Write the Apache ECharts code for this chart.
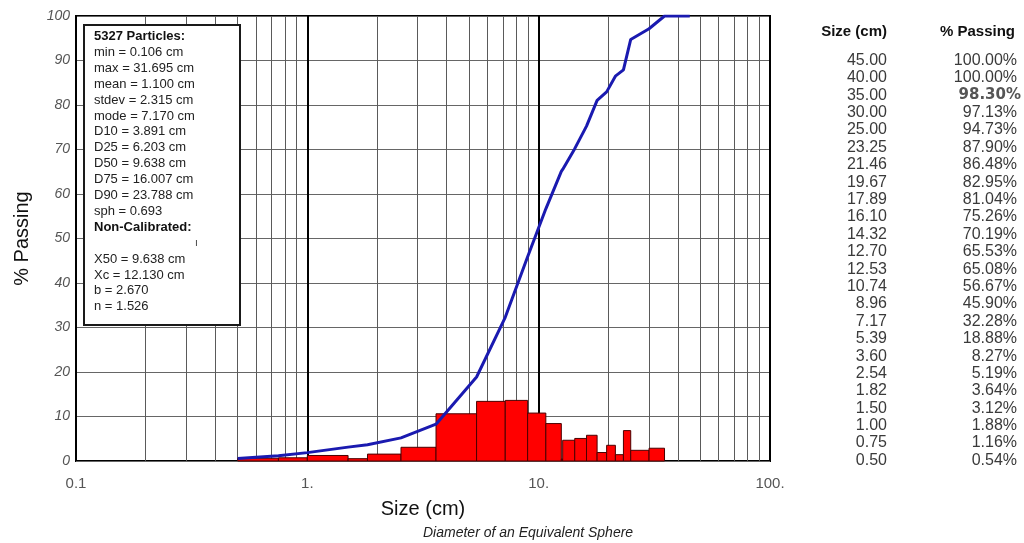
<!DOCTYPE html>
<html>
<head>
<meta charset="utf-8">
<script src="https://cdn.jsdelivr.net/npm/echarts@6/dist/echarts.min.js"></script>
<style>
html,body{margin:0;padding:0;background:#fff;}
#c{width:1024px;height:543px;}
</style>
</head>
<body>
<div id="c"></div>
<script>
// ---- Data ----
const curveSizes   = [0.5, 0.75, 1.0, 1.5, 1.82, 2.54, 3.6, 5.39, 7.17, 8.96, 10.74, 12.53, 12.70, 14.32, 16.10, 17.89, 19.67, 21.46, 23.25, 25, 30, 35, 40, 45];
const curvePassing = [0.54, 1.16, 1.88, 3.12, 3.64, 5.19, 8.27, 18.88, 32.28, 45.90, 56.67, 65.08, 65.53, 70.19, 75.26, 81.04, 82.95, 86.48, 87.90, 94.73, 97.13, 100, 100, 100];

const binLo  = [0.5, 0.75, 1.0, 1.5, 1.82, 2.54, 3.6, 5.39, 7.17, 8.96, 10.74, 12.53, 12.70, 14.32, 16.10, 17.89, 19.67, 21.46, 23.25, 25, 30];
const binHi  = [0.75, 1.0, 1.5, 1.82, 2.54, 3.6, 5.39, 7.17, 8.96, 10.74, 12.53, 12.70, 14.32, 16.10, 17.89, 19.67, 21.46, 23.25, 25, 30, 35];
const binPct = [0.62, 0.72, 1.24, 0.52, 1.55, 3.08, 10.61, 13.40, 13.62, 10.77, 8.41, 0.45, 4.66, 5.07, 5.78, 1.91, 3.53, 1.42, 6.83, 2.40, 2.87];

const tableSize    = ['45.00','40.00','35.00','30.00','25.00','23.25','21.46','19.67','17.89','16.10','14.32','12.70','12.53','10.74','8.96','7.17','5.39','3.60','2.54','1.82','1.50','1.00','0.75','0.50'];
const tablePassing = ['100.00%','100.00%','98.30%','97.13%','94.73%','87.90%','86.48%','82.95%','81.04%','75.26%','70.19%','65.53%','65.08%','56.67%','45.90%','32.28%','18.88%','8.27%','5.19%','3.64%','3.12%','1.88%','1.16%','0.54%'];
const boldRow = 2;

const statsTitle = '5327 Particles:';
const statsLines = ['min = 0.106 cm','max = 31.695 cm','mean = 1.100 cm','stdev = 2.315 cm','mode = 7.170 cm','D10 = 3.891 cm','D25 = 6.203 cm','D50 = 9.638 cm','D75 = 16.007 cm','D90 = 23.788 cm','sph = 0.693'];
const calibTitle = 'Non-Calibrated:';
const calibLines = ['X50 = 9.638 cm','Xc = 12.130 cm','b = 2.670','n = 1.526'];

const xTickLabels = {'0.1':'0.1','1':'1.','10':'10.','100':'100.'};
const yTicks = [0,10,20,30,40,50,60,70,80,90,100];

// ---- Build ----
const minorX = [];
[0.1, 1, 10].forEach(d => { for (let k = 2; k <= 9; k++) minorX.push(+(d * k).toFixed(4)); });

const FONT = '"Liberation Sans", Arial, sans-serif';
const chart = echarts.init(document.getElementById('c'), null, {renderer: 'canvas'});

const histData = binLo.map((lo, i) => [lo, binHi[i], binPct[i]]);
const lineData = curveSizes.map((s, i) => [s, curvePassing[i]]);

let boxText = '{b|' + statsTitle + '}\n' + statsLines.map(s => '{n|' + s + '}').join('\n') +
  '\n{b|' + calibTitle + '}\n{n| }\n' + calibLines.map(s => '{n|' + s + '}').join('\n');

const graphics = [
  {
    type: 'rect', z: 50, left: 83, top: 24,
    shape: {width: 156, height: 300},
    style: {fill: '#fff', stroke: '#1a1a1a', lineWidth: 2}
  },
  {
    type: 'text', z: 51, left: 94, top: 30,
    style: {
      text: boxText, fill: '#111',
      rich: {
        b: {fontFamily: FONT, fontSize: 13, fontWeight: 'bold', lineHeight: 15.9, fill: '#111'},
        n: {fontFamily: FONT, fontSize: 13, lineHeight: 15.9, fill: '#222'}
      }
    }
  },
  {
    type: 'text', z: 51, left: 195, top: 238,
    style: {text: 'ı', fontFamily: FONT, fontSize: 10, fill: '#333'}
  },
  {
    type: 'text', z: 51, left: 423, top: 526,
    style: {text: 'Diameter of an Equivalent Sphere', fontFamily: FONT, fontSize: 14, fontStyle: 'italic', fill: '#222', textAlign: 'center'}
  },
  {
    type: 'text', x: 887, y: 32,
    style: {text: 'Size (cm)', fontFamily: FONT, fontSize: 15, fontWeight: 'bold', fill: '#111', textAlign: 'right', textVerticalAlign: 'middle'}
  },
  {
    type: 'text', x: 1015, y: 32,
    style: {text: '% Passing', fontFamily: FONT, fontSize: 15, fontWeight: 'bold', fill: '#111', textAlign: 'right', textVerticalAlign: 'middle'}
  }
];
tableSize.forEach((s, i) => {
  const y = 60.5 + i * 17.39;
  graphics.push({type: 'text', x: 887, y: y,
    style: {text: s, fontFamily: FONT, fontSize: 16, fill: '#3a3a3a', textAlign: 'right', textVerticalAlign: 'middle'}});
  const bold = i === boldRow;
  graphics.push({type: 'text', x: bold ? 1021 : 1017, y: y,
    style: {text: tablePassing[i], fontFamily: bold ? '"DejaVu Sans", sans-serif' : FONT, fontSize: bold ? 15 : 16,
      fontWeight: bold ? 'bold' : 'normal', fill: bold ? '#555' : '#3a3a3a', textAlign: 'right', textVerticalAlign: 'middle'}});
});

chart.setOption({
  animation: false,
  backgroundColor: '#fff',
  grid: {left: 76, top: 16, width: 694, height: 445, show: true, borderColor: '#000', borderWidth: 2, backgroundColor: 'transparent'},
  xAxis: {
    type: 'log', logBase: 10, min: 0.1, max: 100,
    name: 'Size (cm)', nameLocation: 'middle', nameGap: 38,
    nameTextStyle: {fontFamily: FONT, fontSize: 20, color: '#111'},
    axisLine: {show: false},
    axisTick: {show: false},
    axisLabel: {
      margin: 15, fontFamily: FONT, fontSize: 15, color: '#555',
      showMinLabel: true, showMaxLabel: true,
      formatter: v => { const k = String(+v.toPrecision(3)); return xTickLabels[k] !== undefined ? xTickLabels[k] : ''; }
    },
    splitLine: {show: true, lineStyle: {color: '#000', width: 2}},
    minorTick: {show: false}, minorSplitLine: {show: false}
  },
  yAxis: {
    type: 'value', min: 0, max: 100, interval: 10,
    name: '% Passing', nameLocation: 'middle', nameGap: 44, nameRotate: 90,
    nameTextStyle: {fontFamily: FONT, fontSize: 20, color: '#111'},
    axisLine: {show: false}, axisTick: {show: false},
    axisLabel: {margin: 6, fontFamily: FONT, fontSize: 14, fontStyle: 'italic', color: '#555',
      formatter: v => yTicks.indexOf(v) >= 0 ? String(v) : ''},
    splitLine: {show: true, lineStyle: {color: '#666', width: 1}}
  },
  series: [
    {
      type: 'line', data: [], z: 1, silent: true,
      markLine: {
        z: 1, silent: true, symbol: ['none', 'none'], label: {show: false},
        lineStyle: {color: '#5a5a5a', width: 1, type: 'solid'},
        animation: false,
        data: minorX.map(v => ({xAxis: v}))
      }
    },
    {
      type: 'custom', z: 6,
      data: histData,
      encode: {x: [0, 1], y: 2},
      renderItem: (params, api) => {
        const p0 = api.coord([api.value(0), api.value(2)]);
        const p1 = api.coord([api.value(1), 0]);
        return {type: 'rect', shape: {x: p0[0], y: p0[1], width: p1[0] - p0[0], height: p1[1] - p0[1]},
          style: {fill: '#ff0000', stroke: '#4a0000', lineWidth: 1}};
      }
    },
    {
      type: 'line', z: 7, data: lineData, showSymbol: false, symbol: 'none',
      lineStyle: {color: '#1a1ab0', width: 3}
    }
  ],
  graphic: graphics
});
</script>
</body>
</html>
